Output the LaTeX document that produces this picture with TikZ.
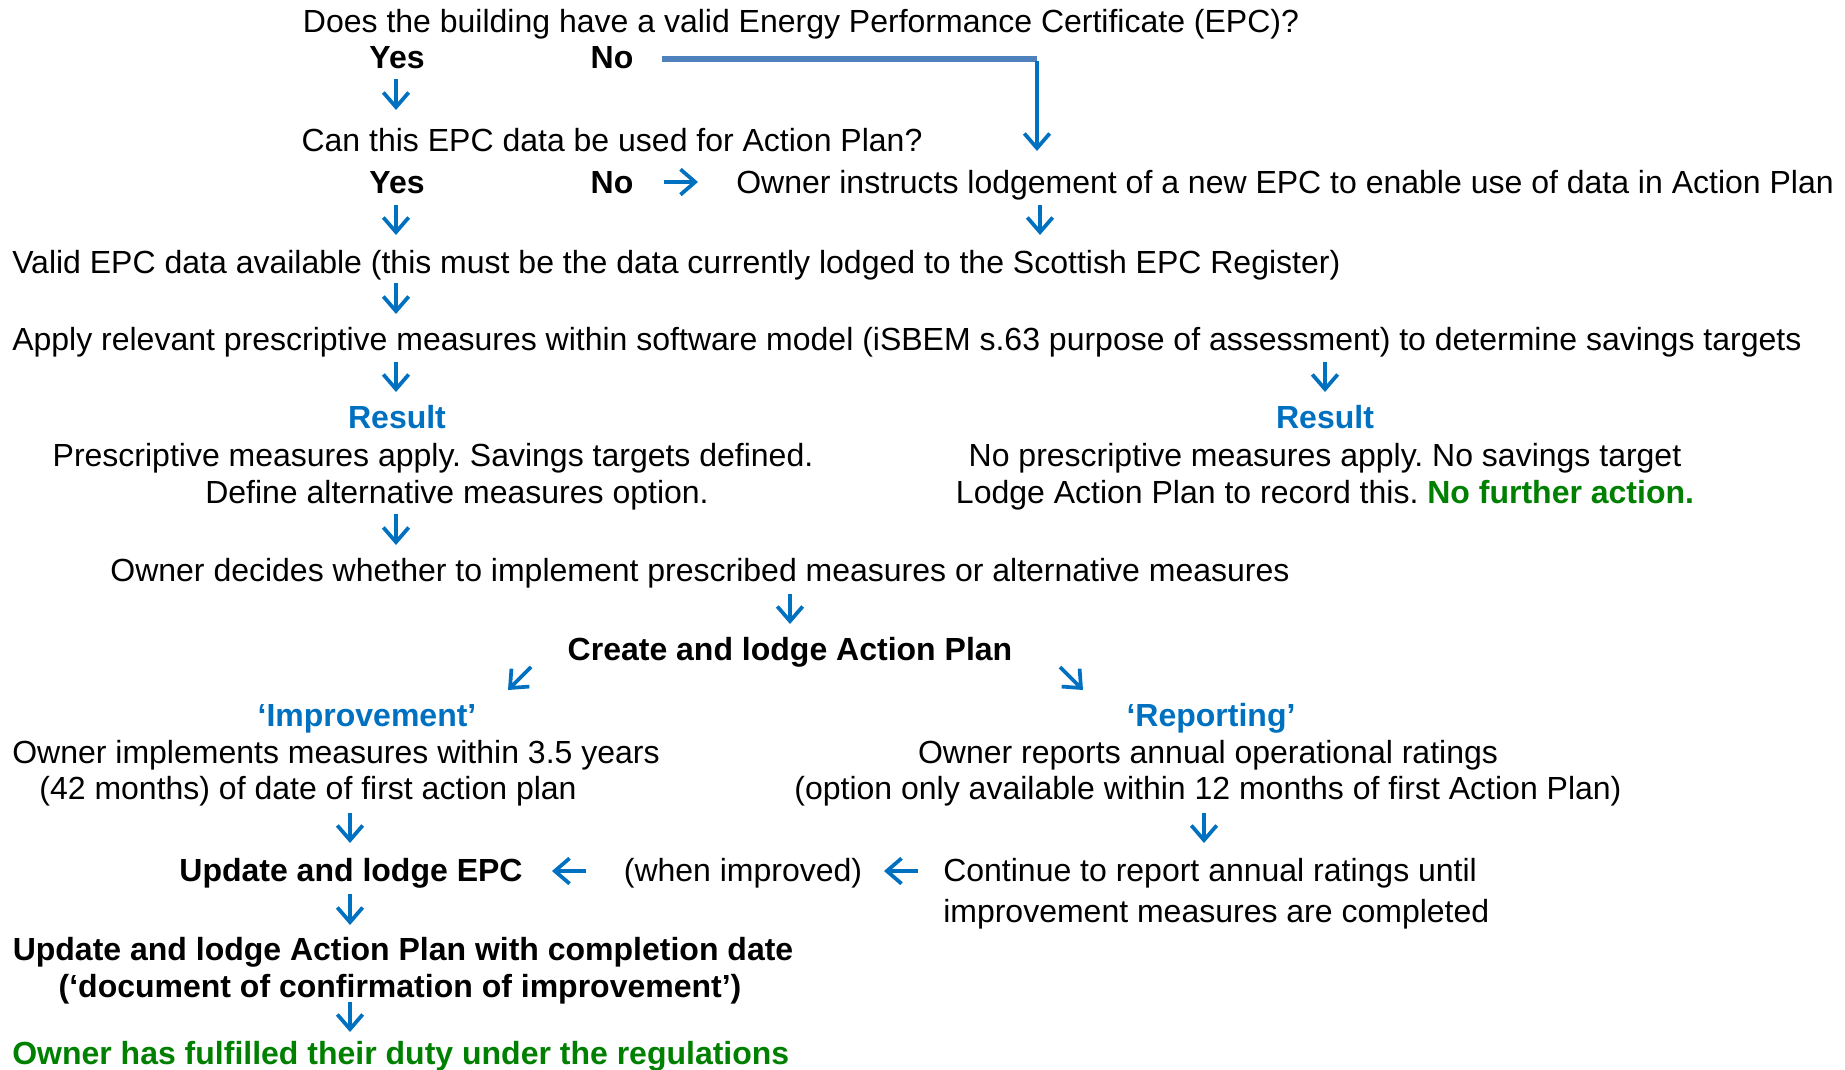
\documentclass[tikz,border=0pt]{standalone}
\usepackage{fontspec}
\setmainfont{Liberation Sans}
\usetikzlibrary{arrows.meta}
\definecolor{ablue}{HTML}{0070C0}
\definecolor{lblue}{HTML}{4F81BD}
\definecolor{agreen}{HTML}{008000}
\newcommand{\fs}{\fontsize{24}{28}\selectfont\frenchspacing}
\tikzset{
  txt/.style={font=\fs, inner sep=0pt, text height=20pt, text depth=5pt},
  btxt/.style={txt, font=\fs\bfseries},
  res/.style={txt, font=\fs\bfseries, text=ablue},
  arr/.style={draw=ablue, line width=2.8pt, -{Straight Barb[length=11pt,width=19pt,line width=2.8pt]}},
}
\begin{document}
\begin{tikzpicture}[x=0.75pt,y=-0.75pt]
\useasboundingbox (0,0) rectangle (1845,1070);
% row 1
\node[txt] (q1) at (801,23) {Does the building have a valid Energy Performance Certificate (EPC)?};
\node[btxt] (yes1) at (397,59) {Yes};
\node[btxt] (no1) at (612,59) {No};
% row 2
\node[txt] (q2) at (612,142) {Can this EPC data be used for Action Plan?};
\node[btxt] (yes2) at (397,184) {Yes};
\node[btxt] (no2) at (612,184) {No};
\node[txt,anchor=west] (owner1) at (736,184) {Owner instructs lodgement of a new EPC to enable use of data in Action Plan};
% row 3
\node[txt,anchor=west] (valid) at (12,263) {Valid EPC data available (this must be the data currently lodged to the Scottish EPC Register)};
\node[txt,anchor=west] (apply) at (12,340) {Apply relevant prescriptive measures within software model (iSBEM s.63 purpose of assessment) to determine savings targets};
% results
\node[res] (resL) at (397,418) {Result};
\node[txt] (pmL1) at (433,456) {Prescriptive measures apply. Savings targets defined.};
\node[txt] (pmL2) at (457,493) {Define alternative measures option.};
\node[res] (resR) at (1325,418) {Result};
\node[txt] (pmR1) at (1325,456) {No prescriptive measures apply. No savings target};
\node[txt] (pmR2) at (1325,493) {Lodge Action Plan to record this. \textcolor{agreen}{\bfseries No further action.}};
% decide
\node[txt] (decide) at (700,571) {Owner decides whether to implement prescribed measures or alternative measures};
\node[btxt] (create) at (790,650) {Create and lodge Action Plan};
% improvement
\node[res] (impT) at (367,716) {‘Improvement’};
\node[txt] (imp1) at (336,753) {Owner implements measures within 3.5 years};
\node[txt] (imp2) at (308,789) {(42 months) of date of first action plan};
% reporting
\node[res] (repT) at (1211,716) {‘Reporting’};
\node[txt] (rep1) at (1208,753) {Owner reports annual operational ratings};
\node[txt] (rep2) at (1208,789) {(option only available within 12 months of first Action Plan)};
% update
\node[btxt] (upd) at (351,871) {Update and lodge EPC};
\node[txt] (when) at (743,871) {(when improved)};
\node[txt,anchor=west] (cont1) at (943,871) {Continue to report annual ratings until};
\node[txt,anchor=west] (cont2) at (943,912) {improvement measures are completed};
\node[btxt] (updAP1) at (403,950) {Update and lodge Action Plan with completion date};
\node[btxt] (updAP2) at (400,987) {(‘document of confirmation of improvement’)};
\node[btxt,text=agreen,anchor=west] (done) at (12,1054) {Owner has fulfilled their duty under the regulations};
% connectors
\coordinate (noStart) at (662,59);
\coordinate (noEnd) at (1037,151);
\draw[lblue, line width=3.8pt] (noStart) -- (noEnd |- noStart) coordinate (corner);
\draw[arr] ([yshift=-1.4pt]corner) -- (noEnd);
\draw[arr] (396,79) coordinate (a1s) -- (396,110) coordinate (a1e);
\draw[arr] (664,182) coordinate (a2s) -- (698,182) coordinate (a2e);
\draw[arr] (396,205) coordinate (a3s) -- (396,235) coordinate (a3e);
\draw[arr] (1040,205) coordinate (a4s) -- (1040,235) coordinate (a4e);
\draw[arr] (396,283) coordinate (a5s) -- (396,314) coordinate (a5e);
\draw[arr] (396,362) coordinate (a6s) -- (396,392) coordinate (a6e);
\draw[arr] (1325,362) coordinate (a7s) -- (1325,392) coordinate (a7e);
\draw[arr] (396,514) coordinate (a8s) -- (396,545) coordinate (a8e);
\draw[arr] (790,594) coordinate (a9s) -- (790,624) coordinate (a9e);
\draw[arr] (531,667) coordinate (a10s) -- (508,690) coordinate (a10e);
\draw[arr] (1060,667) coordinate (a11s) -- (1083,690) coordinate (a11e);
\draw[arr] (350,813) coordinate (a12s) -- (350,843) coordinate (a12e);
\draw[arr] (1204,813) coordinate (a13s) -- (1204,843) coordinate (a13e);
\draw[arr] (586,871) coordinate (a14s) -- (552,871) coordinate (a14e);
\draw[arr] (918,871) coordinate (a15s) -- (884,871) coordinate (a15e);
\draw[arr] (350,894) coordinate (a16s) -- (350,925) coordinate (a16e);
\draw[arr] (350,1002) coordinate (a17s) -- (350,1032) coordinate (a17e);
\end{tikzpicture}
\end{document}
